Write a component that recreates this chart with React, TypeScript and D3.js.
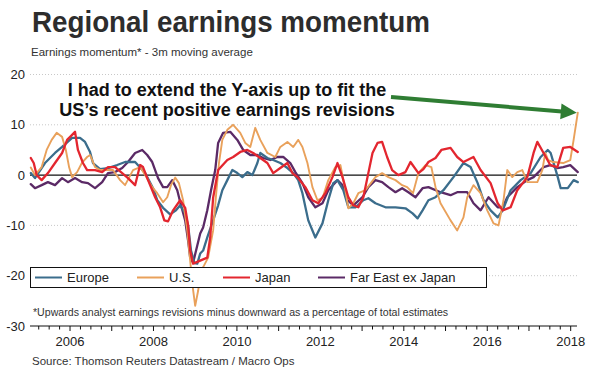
import React from "react";
import * as d3 from "d3";

const title = "Regional earnings momentum";
const subtitle = "Earnings momentum* - 3m moving average";
const footnote = "*Upwards analyst earnings revisions minus downward as a percentage of total estimates";
const source = "Source: Thomson Reuters Datastream / Macro Ops";
const annotation = ["I had to extend the Y-axis up to fit the", "US\u2019s recent positive earnings revisions"];

const seriesNames = ["Europe", "U.S.", "Japan", "Far East ex Japan"];
const seriesColors = ["#3b6d8c", "#e9a15b", "#e3262f", "#5b2a66"];

const yTicks = [20, 10, 0, -10, -20, -30];
const yearTicks = [2006, 2008, 2010, 2012, 2014, 2016, 2018];

// [decimal year, value]
const europe: [number, number][] = [
  [2005.06, 0.4], [2005.16, -0.6], [2005.4, 2.4], [2005.64, 4.4], [2005.81, 5.6], [2006.05, 7.4],
  [2006.24, 7.4], [2006.36, 6.6], [2006.48, 4.6], [2006.55, 2.4], [2006.72, 1.2], [2006.91, 1.4],
  [2007.13, 2.0], [2007.32, 2.6], [2007.56, 2.6], [2007.68, 1.5], [2007.8, 0.4], [2007.99, -2.6],
  [2008.09, -5], [2008.23, -6.5], [2008.4, -7.8], [2008.54, -7], [2008.64, -6], [2008.76, -7.6],
  [2008.83, -10], [2008.9, -15], [2008.98, -17.5], [2009.05, -17.6], [2009.12, -15.6], [2009.19, -15],
  [2009.29, -12.4], [2009.43, -9], [2009.55, -6], [2009.65, -3], [2009.77, -1], [2009.89, 1],
  [2010.01, 0.4], [2010.13, -0.4], [2010.25, 0.6], [2010.37, 0], [2010.49, 2.4], [2010.56, 4.4],
  [2010.73, 3.4], [2010.87, 3], [2011.04, 2.4], [2011.21, 1.4], [2011.35, 0.4], [2011.47, -1],
  [2011.57, -3.6], [2011.71, -9], [2011.88, -12.4], [2012.05, -9.6], [2012.19, -5], [2012.31, -1.6],
  [2012.41, -1], [2012.55, -3], [2012.67, -6.4], [2012.84, -6.4], [2013.03, -5], [2013.15, -4.6],
  [2013.32, -5.6], [2013.56, -6.4], [2013.8, -6.4], [2014.04, -6.6], [2014.21, -7.6], [2014.33, -8.6],
  [2014.45, -7], [2014.59, -5], [2014.76, -4.4], [2014.95, -3], [2015.19, -0.4], [2015.43, 2.4],
  [2015.6, 1.6], [2015.77, -1.6], [2015.91, -5], [2016.08, -7], [2016.25, -8.4], [2016.37, -7],
  [2016.56, -3], [2016.8, -1], [2017.04, 0.4], [2017.28, 3.6], [2017.45, 5], [2017.52, 4.4],
  [2017.69, -0.4], [2017.76, -2.6], [2017.93, -2.6], [2018.07, -1], [2018.17, -1.4],
];

const us: [number, number][] = [
  [2005.06, 1.5], [2005.16, 0], [2005.32, 1.6], [2005.44, 5], [2005.56, 7], [2005.68, 8.4],
  [2005.81, 7.6], [2005.9, 5], [2005.98, 1.5], [2006.05, -0.4], [2006.17, 0.6], [2006.29, 2.5],
  [2006.41, 3.6], [2006.48, 4], [2006.6, 1.6], [2006.72, 1], [2007.03, 1], [2007.2, -1],
  [2007.32, -2], [2007.51, 1], [2007.68, 1.6], [2007.8, 0], [2007.97, -2.4], [2008.09, -3.6],
  [2008.23, -5.4], [2008.33, -4.4], [2008.42, -2], [2008.52, -0.5], [2008.61, -1.6], [2008.71, -5],
  [2008.81, -11], [2008.88, -17], [2008.93, -21.6], [2009.0, -26], [2009.07, -23], [2009.14, -19],
  [2009.21, -18], [2009.31, -16.4], [2009.43, -11], [2009.5, -4], [2009.57, 2.4], [2009.65, 7],
  [2009.77, 9], [2009.91, 10], [2010.08, 8.4], [2010.2, 6.4], [2010.32, 5.6], [2010.44, 9.4],
  [2010.56, 7], [2010.73, 4.4], [2010.92, 3.6], [2011.04, 5.6], [2011.21, 6.6], [2011.35, 5.6],
  [2011.47, 7], [2011.57, 5.6], [2011.69, 2.4], [2011.81, -2.4], [2011.93, -5], [2012.05, -4.6],
  [2012.19, -1], [2012.36, 1.6], [2012.48, 2], [2012.6, -3], [2012.67, -6.6], [2012.79, -5.6],
  [2012.91, -3.6], [2013.08, -3], [2013.32, -0.4], [2013.48, 0.4], [2013.63, -0.4], [2013.8, -1],
  [2013.96, -2], [2014.08, -2.4], [2014.22, -3.6], [2014.35, 0.4], [2014.52, 2], [2014.66, 1.6],
  [2014.76, -2.4], [2014.88, -5.6], [2015.12, -9], [2015.28, -11], [2015.43, -8.4], [2015.52, -4.4],
  [2015.67, -2], [2015.84, -3.6], [2016.0, -7], [2016.15, -9.6], [2016.27, -10], [2016.39, -5],
  [2016.48, 1], [2016.6, -0.4], [2016.72, 0.6], [2016.84, 1], [2016.96, -1.4], [2017.2, -1.4],
  [2017.32, 1], [2017.39, 4.4], [2017.46, 3], [2017.58, 2.6], [2017.82, 2.4], [2017.99, 3],
  [2018.07, 7], [2018.17, 12.4],
];

const japan: [number, number][] = [
  [2005.06, 3.4], [2005.13, 2.4], [2005.2, 0], [2005.32, -1], [2005.47, 0.4], [2005.64, 2.4],
  [2005.81, 4.4], [2005.93, 7], [2006.05, 8], [2006.12, 8.6], [2006.19, 5], [2006.31, 2.4],
  [2006.41, 1], [2006.6, 1], [2006.77, 0.6], [2006.91, 1.6], [2007.08, 1.6], [2007.25, 0.4],
  [2007.39, -0.6], [2007.56, -2], [2007.68, 2], [2007.75, 1.6], [2007.87, -1], [2008.04, -4.4],
  [2008.16, -6.4], [2008.26, -9], [2008.35, -9.2], [2008.47, -7], [2008.64, -5], [2008.76, -6.5],
  [2008.83, -10], [2008.88, -15], [2008.95, -17.6], [2009.12, -17], [2009.29, -16.4], [2009.36, -12.4],
  [2009.43, -4.5], [2009.55, 1], [2009.77, 3], [2009.91, 3.6], [2010.08, 4.6], [2010.25, 5],
  [2010.39, 4.4], [2010.56, 3.4], [2010.73, 2.4], [2010.87, 0.4], [2011.04, 1.4], [2011.21, 2.4],
  [2011.33, 0.4], [2011.45, -0.4], [2011.64, -2.4], [2011.81, -5], [2011.95, -5.6], [2012.12, -3.6],
  [2012.29, -0.4], [2012.41, 2.4], [2012.53, -0.4], [2012.67, -4.4], [2012.79, -6], [2012.91, -6.4],
  [2013.03, -4.4], [2013.13, -0.4], [2013.25, 4.4], [2013.37, 6.4], [2013.48, 6.6], [2013.6, 3.6],
  [2013.72, 1], [2013.87, 0], [2014.04, 0.6], [2014.16, 2.6], [2014.35, 0.4], [2014.47, 1.2],
  [2014.59, 2.6], [2014.76, 3.4], [2014.9, 5], [2015.12, 5.4], [2015.28, 3.6], [2015.43, 2.6],
  [2015.67, 3.6], [2015.84, 1], [2016.08, -1.6], [2016.25, -5.6], [2016.37, -7], [2016.56, -6.4],
  [2016.72, -3], [2016.96, -0.4], [2017.11, 4.4], [2017.2, 6.6], [2017.35, 4.4], [2017.51, 2],
  [2017.68, 1.6], [2017.82, 5.4], [2017.99, 5.6], [2018.17, 4.6],
];

const farEast: [number, number][] = [
  [2005.06, -1.8], [2005.16, -2.6], [2005.32, -2], [2005.47, -1.4], [2005.64, -2], [2005.81, -0.6],
  [2005.95, -1.4], [2006.12, -0.6], [2006.29, -1.4], [2006.43, -1.6], [2006.6, -2.6], [2006.77, -1.4],
  [2006.91, 0.4], [2007.08, 0.6], [2007.25, 1.4], [2007.39, 2.6], [2007.56, 4.4], [2007.73, 5],
  [2007.85, 4], [2007.97, 2.6], [2008.11, -0.6], [2008.23, -2.4], [2008.33, -2.4], [2008.45, -1],
  [2008.57, -3], [2008.66, -6], [2008.76, -9], [2008.83, -13], [2008.88, -16.4], [2008.95, -17.4],
  [2009.05, -14], [2009.12, -11.6], [2009.19, -10.4], [2009.29, -7], [2009.38, -3], [2009.48, 1],
  [2009.55, 6.4], [2009.67, 8.4], [2009.84, 8.6], [2010.01, 7], [2010.15, 5], [2010.32, 4],
  [2010.49, 4], [2010.63, 3.4], [2010.8, 3], [2010.97, 3.6], [2011.11, 3.6], [2011.28, 2.4],
  [2011.4, 0.6], [2011.57, -1.6], [2011.71, -4.4], [2011.88, -6.4], [2012.05, -5.6], [2012.19, -3],
  [2012.41, -1], [2012.53, -2], [2012.65, -5], [2012.79, -6], [2013.01, -4.4], [2013.15, -2.4],
  [2013.32, -1], [2013.48, -1.4], [2013.63, -2.4], [2013.8, -3.4], [2013.96, -2.6], [2014.11, -3.4],
  [2014.28, -4.4], [2014.45, -2.6], [2014.59, -2.4], [2014.88, -3.4], [2015.12, -4], [2015.28, -3.4],
  [2015.52, -3.4], [2015.67, -5.6], [2015.84, -7], [2016.03, -4.4], [2016.25, -6.4], [2016.37, -6.4],
  [2016.48, -4.4], [2016.72, -2.4], [2016.96, -1], [2017.11, -0.4], [2017.35, 1.6], [2017.51, 2],
  [2017.68, 1.4], [2017.82, 1.6], [2017.99, 2], [2018.17, 0.6],
];

const seriesData = [europe, us, japan, farEast];
const drawOrder = [3, 0, 1, 2];

const W = 593;
const H = 368;
const FONT = "'Liberation Sans', Arial, Helvetica, sans-serif";

export default function App() {
  const x = d3.scaleLinear().domain([2005, 2018]).range([28.3, 570.7]);
  const y = d3.scaleLinear().domain([-30, 20]).range([326, 74.5]);
  const xLeft = 30;
  const xRight = 577;

  const line = d3
    .line<[number, number]>()
    .x((d) => x(d[0]))
    .y((d) => y(d[1]));

  const quarterTicks = d3.range(2005.25, 2018.2, 0.25).filter((t) => x(t) >= xLeft && x(t) <= xRight);

  // annotation arrow pointing at the last U.S. value
  const usLast = us[us.length - 1];
  const tip: [number, number] = [x(usLast[0]) - 1, y(usLast[1])];
  const start: [number, number] = [391, 97];
  const dx = tip[0] - start[0];
  const dy = tip[1] - start[1];
  const len = Math.hypot(dx, dy);
  const ux = dx / len;
  const uy = dy / len;
  const headLen = 16;
  const headHalf = 8;
  const base: [number, number] = [tip[0] - ux * headLen, tip[1] - uy * headLen];
  const head = [
    tip,
    [base[0] - uy * headHalf, base[1] + ux * headHalf],
    [base[0] + uy * headHalf, base[1] - ux * headHalf],
  ];

  const legendY = 277.5;
  const legendItems = [
    { i: 0, lx: 35 },
    { i: 1, lx: 137 },
    { i: 2, lx: 223 },
    { i: 3, lx: 318 },
  ];

  return (
    <svg
      width={W}
      height={H}
      style={{ position: "absolute", left: 0, top: 0, background: "#fff" }}
      fontFamily={FONT}
    >
      <rect x={0} y={0} width={W} height={H} fill="#fff" />
      <text x={32} y={32} fontSize={29.5} fontWeight={700} fill="#2d2d2d" textLength={398} lengthAdjust="spacingAndGlyphs">
        {title}
      </text>
      <text x={31} y={56} fontSize={11.5} fill="#333">
        {subtitle}
      </text>

      {/* grid */}
      {yTicks
        .filter((v) => v !== 0 && v !== -30)
        .map((v) => (
          <line key={"g" + v} x1={xLeft} x2={xRight} y1={y(v)} y2={y(v)} stroke="#c8c8c8" strokeWidth={1} strokeDasharray="1,2" />
        ))}
      {yTicks.map((v) => (
        <text key={"yl" + v} x={25} y={y(v) + 4.5} fontSize={13} textAnchor="end" fill="#222">
          {v}
        </text>
      ))}

      {/* zero line */}
      <line x1={xLeft} x2={xRight} y1={y(0)} y2={y(0)} stroke="#111" strokeWidth={1.2} />

      {/* series */}
      {drawOrder.map((i) => (
        <path
          key={"s" + i}
          d={line(seriesData[i]) || ""}
          fill="none"
          stroke={seriesColors[i]}
          strokeWidth={i === 1 ? 1.9 : 2.3}
          strokeLinejoin="round"
          strokeLinecap="round"
        />
      ))}

      {/* legend */}
      <rect x={30.5} y={267.5} width={456} height={20} fill="#fff" stroke="#111" strokeWidth={1} />
      {legendItems.map(({ i, lx }) => (
        <g key={"lg" + i}>
          <line x1={lx} x2={lx + 27} y1={legendY} y2={legendY} stroke={seriesColors[i]} strokeWidth={2} />
          <text x={lx + 32} y={legendY + 4.5} fontSize={13} fill="#222">
            {seriesNames[i]}
          </text>
        </g>
      ))}

      <text x={33} y={316} fontSize={10.6} fill="#333">
        {footnote}
      </text>

      {/* x axis */}
      <line x1={xLeft} x2={xRight} y1={y(-30)} y2={y(-30)} stroke="#111" strokeWidth={1.2} />
      {quarterTicks.map((t) => {
        const isYear = Math.abs(t - Math.round(t)) < 1e-6;
        return (
          <line
            key={"qt" + t}
            x1={x(t)}
            x2={x(t)}
            y1={y(-30)}
            y2={y(-30) + (isYear ? 5 : 3.5)}
            stroke="#111"
            strokeWidth={1}
          />
        );
      })}
      {yearTicks.map((yr) => (
        <text key={"xl" + yr} x={x(yr)} y={346} fontSize={13} textAnchor="middle" fill="#222">
          {yr}
        </text>
      ))}

      <text x={32} y={365} fontSize={11.5} fill="#333">
        {source}
      </text>

      {/* annotation */}
      {annotation.map((t, k) => (
        <text
          key={"an" + k}
          x={227}
          y={96 + k * 20}
          fontSize={18}
          fontWeight={700}
          textAnchor="middle"
          fill="#111"
          stroke="#fff"
          strokeWidth={3}
          paintOrder="stroke"
        >
          {t}
        </text>
      ))}
      <line x1={start[0]} y1={start[1]} x2={base[0] + ux * 1} y2={base[1] + uy * 1} stroke="#2f7d33" strokeWidth={4} />
      <polygon points={head.map((p) => p.join(",")).join(" ")} fill="#2f7d33" />
    </svg>
  );
}
